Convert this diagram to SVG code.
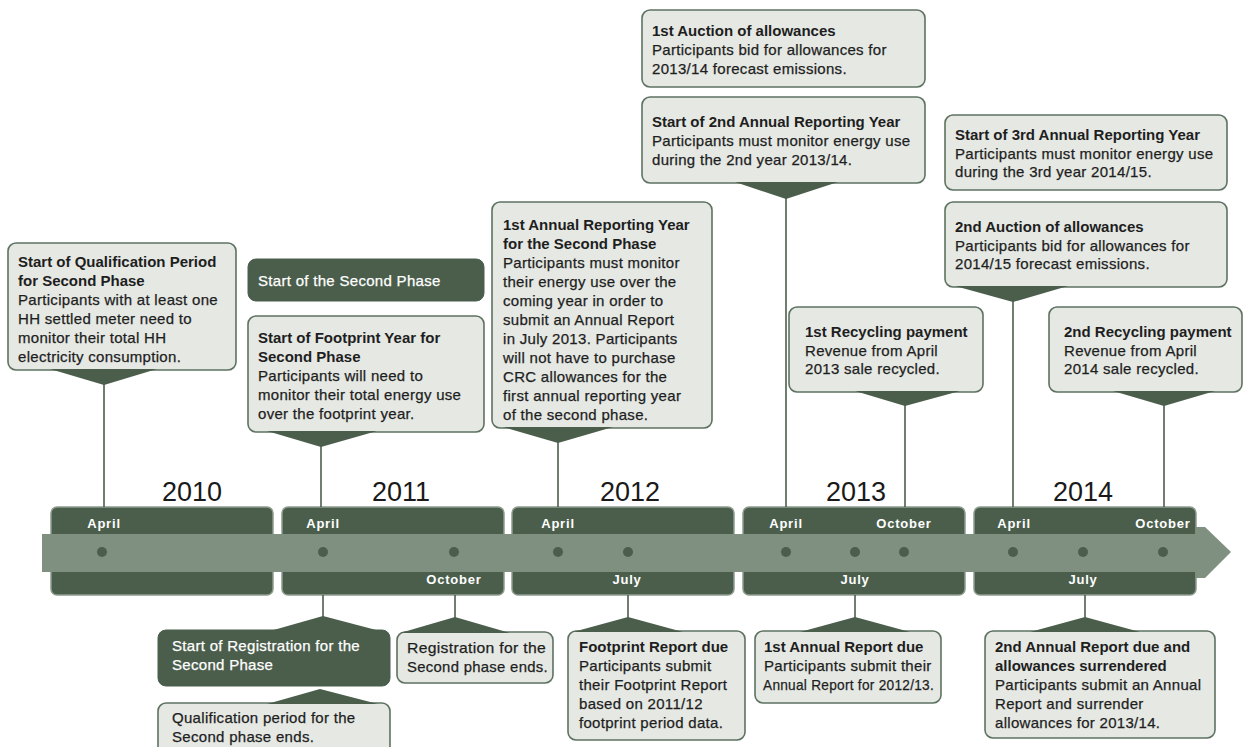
<svg xmlns="http://www.w3.org/2000/svg" width="1249" height="747" viewBox="0 0 1249 747">
<style>
.box{fill:#e5e8e3;stroke:#5e7261;stroke-width:1.6}
.dbox{fill:#4b5e4c;stroke:#4b5e4c;stroke-width:1}
.ptr{fill:#4b5e4c}
.t{font-family:"Liberation Sans",Arial,sans-serif;font-size:15px;fill:#1e1e1e;stroke:#1e1e1e;stroke-width:0.25px;letter-spacing:0.3px}
.b{font-weight:bold;letter-spacing:0;stroke-width:0}
.w{fill:#ffffff;stroke:#ffffff}
.yr{font-family:"Liberation Sans",Arial,sans-serif;font-size:27px;text-anchor:middle;fill:#1a1a1a}
.lbl{font-family:"Liberation Sans",Arial,sans-serif;font-size:13px;font-weight:bold;fill:#ffffff;text-anchor:middle;letter-spacing:0.8px}
.blk{fill:#4b5e4c;stroke:#8d9c8e;stroke-width:1.5}
.bar{fill:#7f9081}
.dot{fill:#4b5e4c}
#connectors line{stroke:#4b5e4c;stroke-width:1.6}
</style>
<rect width="1249" height="747" fill="#ffffff"/>

<g id="timeline">
  <rect class="blk" x="51" y="507" width="222" height="88" rx="6"/>
  <rect class="blk" x="282" y="507" width="222" height="88" rx="6"/>
  <rect class="blk" x="512" y="507" width="222" height="88" rx="6"/>
  <rect class="blk" x="743" y="507" width="222" height="88" rx="6"/>
  <rect class="blk" x="974" y="507" width="222" height="88" rx="6"/>
  <path class="bar" d="M42,534 H1196 V527 H1205 L1231,552 L1205,578 H1196 V572 H42 Z"/>
  <text class="yr" x="192" y="501">2010</text>
  <text class="yr" x="401" y="501">2011</text>
  <text class="yr" x="630" y="501">2012</text>
  <text class="yr" x="856" y="501">2013</text>
  <text class="yr" x="1083" y="501">2014</text>
  <circle class="dot" cx="102" cy="552" r="5"/>
  <circle class="dot" cx="323" cy="552" r="5"/>
  <circle class="dot" cx="454" cy="552" r="5"/>
  <circle class="dot" cx="558" cy="552" r="5"/>
  <circle class="dot" cx="628" cy="552" r="5"/>
  <circle class="dot" cx="786" cy="552" r="5"/>
  <circle class="dot" cx="855" cy="552" r="5"/>
  <circle class="dot" cx="904" cy="552" r="5"/>
  <circle class="dot" cx="1013" cy="552" r="5"/>
  <circle class="dot" cx="1083" cy="552" r="5"/>
  <circle class="dot" cx="1163" cy="552" r="5"/>
  <text class="lbl" x="104" y="528">April</text>
  <text class="lbl" x="323" y="528">April</text>
  <text class="lbl" x="558" y="528">April</text>
  <text class="lbl" x="786" y="528">April</text>
  <text class="lbl" x="904" y="528">October</text>
  <text class="lbl" x="1014" y="528">April</text>
  <text class="lbl" x="1163" y="528">October</text>
  <text class="lbl" x="454" y="584">October</text>
  <text class="lbl" x="627" y="584">July</text>
  <text class="lbl" x="855" y="584">July</text>
  <text class="lbl" x="1083" y="584">July</text>
</g>

<g id="connectors">
  <line x1="104" y1="384" x2="104" y2="507"/>
  <line x1="321" y1="446" x2="321" y2="507"/>
  <line x1="558" y1="442" x2="558" y2="507"/>
  <line x1="786" y1="198" x2="786" y2="507"/>
  <line x1="905" y1="405" x2="905" y2="507"/>
  <line x1="1013" y1="301" x2="1013" y2="507"/>
  <line x1="1164" y1="405" x2="1164" y2="507"/>
  <line x1="323" y1="595" x2="323" y2="617"/>
  <line x1="455" y1="595" x2="455" y2="618"/>
  <line x1="628" y1="595" x2="628" y2="618"/>
  <line x1="855" y1="595" x2="855" y2="618"/>
  <line x1="1085" y1="595" x2="1085" y2="618"/>
</g>

<g id="qualification-start">
  <rect class="box" x="8" y="243" width="228" height="127" rx="8"/>
  <polygon class="ptr" points="50,369 157,369 104,385"/>
  <text class="t b" x="18" y="267">Start of Qualification Period</text>
  <text class="t b" x="18" y="286">for Second Phase</text>
  <text class="t" x="18" y="305">Participants with at least one</text>
  <text class="t" x="18" y="324">HH settled meter need to</text>
  <text class="t" x="18" y="343">monitor their total HH</text>
  <text class="t" x="18" y="362">electricity consumption.</text>
</g>

<g id="second-phase-start">
  <rect class="dbox" x="248" y="259" width="236" height="42" rx="8"/>
  <text class="t w" x="258" y="286">Start of the Second Phase</text>
</g>

<g id="footprint-year">
  <rect class="box" x="248" y="316" width="236" height="116" rx="8"/>
  <polygon class="ptr" points="267,431 377,431 321,447"/>
  <text class="t b" x="258" y="343">Start of Footprint Year for</text>
  <text class="t b" x="258" y="362">Second Phase</text>
  <text class="t" x="258" y="381">Participants will need to</text>
  <text class="t" x="258" y="400">monitor their total energy use</text>
  <text class="t" x="258" y="419">over the footprint year.</text>
</g>

<g id="first-reporting-year">
  <rect class="box" x="492" y="202" width="220" height="226" rx="8"/>
  <polygon class="ptr" points="503,427 613,427 558,443"/>
  <text class="t b" x="503" y="230">1st Annual Reporting Year</text>
  <text class="t b" x="503" y="249">for the Second Phase</text>
  <text class="t" x="503" y="268">Participants must monitor</text>
  <text class="t" x="503" y="287">their energy use over the</text>
  <text class="t" x="503" y="306">coming year in order to</text>
  <text class="t" x="503" y="325">submit an Annual Report</text>
  <text class="t" x="503" y="344">in July 2013. Participants</text>
  <text class="t" x="503" y="363">will not have to purchase</text>
  <text class="t" x="503" y="382">CRC allowances for the</text>
  <text class="t" x="503" y="401">first annual reporting year</text>
  <text class="t" x="503" y="420">of the second phase.</text>
</g>

<g id="first-auction">
  <rect class="box" x="642" y="10" width="283" height="77" rx="8"/>
  <text class="t b" x="652" y="36">1st Auction of allowances</text>
  <text class="t" x="652" y="55">Participants bid for allowances for</text>
  <text class="t" x="652" y="74">2013/14 forecast emissions.</text>
</g>

<g id="second-reporting-year">
  <rect class="box" x="642" y="97" width="283" height="86" rx="8"/>
  <polygon class="ptr" points="735,182 838,182 786,199"/>
  <text class="t b" x="652" y="127">Start of 2nd Annual Reporting Year</text>
  <text class="t" x="652" y="146">Participants must monitor energy use</text>
  <text class="t" x="652" y="165">during the 2nd year 2013/14.</text>
</g>

<g id="third-reporting-year">
  <rect class="box" x="945" y="115" width="282" height="75" rx="8"/>
  <text class="t b" x="955" y="140">Start of 3rd Annual Reporting Year</text>
  <text class="t" x="955" y="159">Participants must monitor energy use</text>
  <text class="t" x="955" y="177">during the 3rd year 2014/15.</text>
</g>

<g id="second-auction">
  <rect class="box" x="945" y="202" width="282" height="85" rx="8"/>
  <polygon class="ptr" points="955,286 1068,286 1013,302"/>
  <text class="t b" x="955" y="232">2nd Auction of allowances</text>
  <text class="t" x="955" y="251">Participants bid for allowances for</text>
  <text class="t" x="955" y="269">2014/15 forecast emissions.</text>
</g>

<g id="first-recycling">
  <rect class="box" x="789" y="307" width="194" height="85" rx="8"/>
  <polygon class="ptr" points="855,391 960,391 905,406"/>
  <text class="t b" x="805" y="337">1st Recycling payment</text>
  <text class="t" x="805" y="356">Revenue from April</text>
  <text class="t" x="805" y="374">2013 sale recycled.</text>
</g>

<g id="second-recycling">
  <rect class="box" x="1049" y="307" width="193" height="85" rx="8"/>
  <polygon class="ptr" points="1113,391 1215,391 1164,406"/>
  <text class="t b" x="1064" y="337">2nd Recycling payment</text>
  <text class="t" x="1064" y="356">Revenue from April</text>
  <text class="t" x="1064" y="374">2014 sale recycled.</text>
</g>

<g id="registration-start">
  <rect class="dbox" x="158" y="630" width="232" height="56" rx="8"/>
  <polygon class="ptr" points="270,631 380,631 323,616"/>
  <text class="t w" x="172" y="651">Start of Registration for the</text>
  <text class="t w" x="172" y="670">Second Phase</text>
</g>

<g id="qualification-end">
  <rect class="box" x="158" y="703" width="232" height="52" rx="8"/>
  <polygon class="ptr" points="267,704 378,704 320,689"/>
  <text class="t" x="172" y="723">Qualification period for the</text>
  <text class="t" x="172" y="742">Second phase ends.</text>
</g>

<g id="registration-end">
  <rect class="box" x="397" y="632" width="156" height="51" rx="8"/>
  <polygon class="ptr" points="400,633 510,633 455,617"/>
  <text class="t" x="407" y="653" textLength="139" lengthAdjust="spacingAndGlyphs">Registration for the</text>
  <text class="t" x="407" y="672" textLength="141" lengthAdjust="spacingAndGlyphs">Second phase ends.</text>
</g>

<g id="footprint-report">
  <rect class="box" x="568" y="631" width="177" height="109" rx="8"/>
  <polygon class="ptr" points="573,632 683,632 628,617"/>
  <text class="t b" x="579" y="652">Footprint Report due</text>
  <text class="t" x="579" y="671">Participants submit</text>
  <text class="t" x="579" y="690">their Footprint Report</text>
  <text class="t" x="579" y="709">based on 2011/12</text>
  <text class="t" x="579" y="728">footprint period data.</text>
</g>

<g id="first-annual-report">
  <rect class="box" x="755" y="631" width="186" height="72" rx="8"/>
  <polygon class="ptr" points="800,632 910,632 855,617"/>
  <text class="t b" x="764" y="652">1st Annual Report due</text>
  <text class="t" x="764" y="671">Participants submit their</text>
  <text class="t" x="763" y="690" textLength="171" lengthAdjust="spacingAndGlyphs">Annual Report for 2012/13.</text>
</g>

<g id="second-annual-report">
  <rect class="box" x="985" y="631" width="230" height="107" rx="8"/>
  <polygon class="ptr" points="1030,632 1140,632 1085,617"/>
  <text class="t b" x="995" y="652">2nd Annual Report due and</text>
  <text class="t b" x="995" y="671">allowances surrendered</text>
  <text class="t" x="995" y="690">Participants submit an Annual</text>
  <text class="t" x="995" y="709">Report and surrender</text>
  <text class="t" x="995" y="728">allowances for 2013/14.</text>
</g>
</svg>
